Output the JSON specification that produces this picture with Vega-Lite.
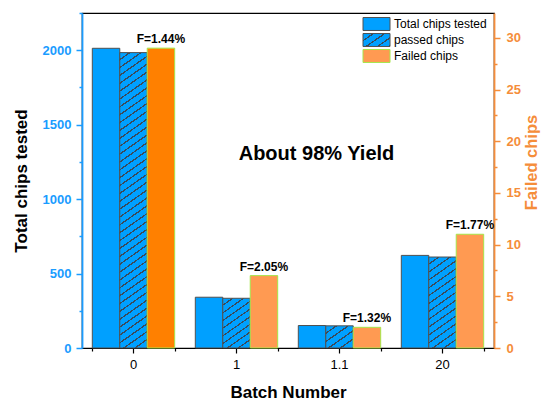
{
  "$schema": "https://vega.github.io/schema/vega-lite/v6.json",
  "width": 412,
  "height": 335,
  "autosize": {"type": "none"},
  "padding": {"left": 82, "top": 13, "right": 47, "bottom": 52},
  "background": "white",
  "config": {"view": {"stroke": "black", "strokeWidth": 1.2}, "font": "Liberation Sans"},
  "data": {"values": [
    {"batch": "0", "series": "Total chips tested", "value": 2013},
    {"batch": "0", "series": "passed chips", "value": 1984},
    {"batch": "0", "series": "Failed chips", "value": 29, "label": "F=1.44%"},
    {"batch": "1", "series": "Total chips tested", "value": 341},
    {"batch": "1", "series": "passed chips", "value": 334},
    {"batch": "1", "series": "Failed chips", "value": 7, "label": "F=2.05%"},
    {"batch": "1.1", "series": "Total chips tested", "value": 151},
    {"batch": "1.1", "series": "passed chips", "value": 149},
    {"batch": "1.1", "series": "Failed chips", "value": 2, "label": "F=1.32%"},
    {"batch": "20", "series": "Total chips tested", "value": 622},
    {"batch": "20", "series": "passed chips", "value": 611},
    {"batch": "20", "series": "Failed chips", "value": 11, "label": "F=1.77%"}
  ]},
  "encoding": {
    "x": {
      "field": "batch", "type": "nominal",
      "scale": {"domain": ["0", "1", "1.1", "20"], "paddingInner": 0.2, "paddingOuter": 0.1},
      "axis": {
        "title": "Batch Number", "labelAngle": 0, "labelFontSize": 13, "labelColor": "black",
        "labelPadding": 5, "tickSize": 5, "tickColor": "black", "tickWidth": 1.2, "domainColor": "black", "domainWidth": 1.2,
        "titleFontSize": 17, "titleFontWeight": "bold", "titleColor": "black", "titlePadding": 13
      }
    }
  },
  "layer": [
    {
      "encoding": {
        "y": {
          "field": "value", "type": "quantitative",
          "scale": {"domain": [0, 2250], "nice": false, "zero": true},
          "axis": {
            "orient": "left", "title": "Total chips tested", "grid": false,
            "values": [0, 250, 500, 750, 1000, 1250, 1500, 1750, 2000, 2250],
            "format": "d",
            "labelExpr": "datum.value % 500 === 0 ? datum.label : ''",
            "tickSize": {"condition": {"test": "datum.value % 500 === 0", "value": 6}, "value": 3},
            "tickColor": "#1a9cff", "tickWidth": 1.5, "domainColor": "#1a9cff", "domainWidth": 1.8,
            "labelColor": "#1a9cff", "labelFontWeight": "bold", "labelFontSize": 13, "labelPadding": 5,
            "titleFontSize": 17, "titleFontWeight": "bold", "titleColor": "black", "titlePadding": 12
          }
        }
      },
      "layer": [
        {
          "encoding": {
            "xOffset": {
              "field": "series", "type": "nominal",
              "scale": {"domain": ["Total chips tested", "passed chips", "Failed chips"], "paddingInner": 0, "paddingOuter": 0}
            }
          },
          "layer": [
            {
              "transform": [{"filter": "datum.series === 'Total chips tested'"}],
              "mark": {"type": "bar", "color": "#00a0ff", "strokeWidth": 1},
              "encoding": {
                "stroke": {
                  "field": "series", "type": "nominal",
                  "scale": {"domain": ["Total chips tested", "passed chips", "Failed chips"], "range": ["#505050", "#505050", "#a6e64b"]},
                  "legend": {
                    "title": null, "orient": "none", "legendX": 287, "legendY": 3.5,
                    "symbolType": "M-2,-0.96H2V0.96H-2Z", "symbolSize": 182.25,
                    "labelFontSize": 12, "labelColor": "black", "labelOffset": 10, "rowPadding": -3, "padding": 0,
                    "symbolStrokeWidth": 1, "symbolOpacity": 1,
                    "encoding": {
                      "symbols": {
                        "fill": {
                          "condition": {"test": "datum.label === 'passed chips'", "value": {"gradient": "linear", "x1": 0, "y1": 0, "x2": 1.146, "y2": 0.788, "stops": [
                              {"offset": 0, "color": "#00a0ff"}, {"offset": 0.2025, "color": "#00a0ff"}, {"offset": 0.2025, "color": "#3a4a5a"}, {"offset": 0.25, "color": "#3a4a5a"},
                              {"offset": 0.25, "color": "#00a0ff"}, {"offset": 0.4525, "color": "#00a0ff"}, {"offset": 0.4525, "color": "#3a4a5a"}, {"offset": 0.5, "color": "#3a4a5a"},
                              {"offset": 0.5, "color": "#00a0ff"}, {"offset": 0.7025, "color": "#00a0ff"}, {"offset": 0.7025, "color": "#3a4a5a"}, {"offset": 0.75, "color": "#3a4a5a"},
                              {"offset": 0.75, "color": "#00a0ff"}, {"offset": 0.9525, "color": "#00a0ff"}, {"offset": 0.9525, "color": "#3a4a5a"}, {"offset": 1, "color": "#3a4a5a"}
                            ]}},
                          "value": {"expr": "datum.label === 'Failed chips' ? '#ff9a52' : '#00a0ff'"}
                        }
                      }
                    }
                  }
                }
              }
            },
            {
              "transform": [{"filter": "datum.series === 'passed chips' && datum.batch === '0'"}],
              "mark": {"type": "bar", "stroke": "#505050", "strokeWidth": 1, "color": {"gradient": "linear", "x1": 0, "y1": 0, "x2": 0.0693, "y2": 1.0608, "stops": [
                {"offset": 0, "color": "#00a0ff"}, {"offset": 0.02, "color": "#00a0ff"}, {"offset": 0.02, "color": "#3a4a5a"}, {"offset": 0.025, "color": "#3a4a5a"},
                {"offset": 0.025, "color": "#00a0ff"}, {"offset": 0.045, "color": "#00a0ff"}, {"offset": 0.045, "color": "#3a4a5a"}, {"offset": 0.05, "color": "#3a4a5a"},
                {"offset": 0.05, "color": "#00a0ff"}, {"offset": 0.07, "color": "#00a0ff"}, {"offset": 0.07, "color": "#3a4a5a"}, {"offset": 0.075, "color": "#3a4a5a"},
                {"offset": 0.075, "color": "#00a0ff"}, {"offset": 0.095, "color": "#00a0ff"}, {"offset": 0.095, "color": "#3a4a5a"}, {"offset": 0.1, "color": "#3a4a5a"},
                {"offset": 0.1, "color": "#00a0ff"}, {"offset": 0.12, "color": "#00a0ff"}, {"offset": 0.12, "color": "#3a4a5a"}, {"offset": 0.125, "color": "#3a4a5a"},
                {"offset": 0.125, "color": "#00a0ff"}, {"offset": 0.145, "color": "#00a0ff"}, {"offset": 0.145, "color": "#3a4a5a"}, {"offset": 0.15, "color": "#3a4a5a"},
                {"offset": 0.15, "color": "#00a0ff"}, {"offset": 0.17, "color": "#00a0ff"}, {"offset": 0.17, "color": "#3a4a5a"}, {"offset": 0.175, "color": "#3a4a5a"},
                {"offset": 0.175, "color": "#00a0ff"}, {"offset": 0.195, "color": "#00a0ff"}, {"offset": 0.195, "color": "#3a4a5a"}, {"offset": 0.2, "color": "#3a4a5a"},
                {"offset": 0.2, "color": "#00a0ff"}, {"offset": 0.22, "color": "#00a0ff"}, {"offset": 0.22, "color": "#3a4a5a"}, {"offset": 0.225, "color": "#3a4a5a"},
                {"offset": 0.225, "color": "#00a0ff"}, {"offset": 0.245, "color": "#00a0ff"}, {"offset": 0.245, "color": "#3a4a5a"}, {"offset": 0.25, "color": "#3a4a5a"},
                {"offset": 0.25, "color": "#00a0ff"}, {"offset": 0.27, "color": "#00a0ff"}, {"offset": 0.27, "color": "#3a4a5a"}, {"offset": 0.275, "color": "#3a4a5a"},
                {"offset": 0.275, "color": "#00a0ff"}, {"offset": 0.295, "color": "#00a0ff"}, {"offset": 0.295, "color": "#3a4a5a"}, {"offset": 0.3, "color": "#3a4a5a"},
                {"offset": 0.3, "color": "#00a0ff"}, {"offset": 0.32, "color": "#00a0ff"}, {"offset": 0.32, "color": "#3a4a5a"}, {"offset": 0.325, "color": "#3a4a5a"},
                {"offset": 0.325, "color": "#00a0ff"}, {"offset": 0.345, "color": "#00a0ff"}, {"offset": 0.345, "color": "#3a4a5a"}, {"offset": 0.35, "color": "#3a4a5a"},
                {"offset": 0.35, "color": "#00a0ff"}, {"offset": 0.37, "color": "#00a0ff"}, {"offset": 0.37, "color": "#3a4a5a"}, {"offset": 0.375, "color": "#3a4a5a"},
                {"offset": 0.375, "color": "#00a0ff"}, {"offset": 0.395, "color": "#00a0ff"}, {"offset": 0.395, "color": "#3a4a5a"}, {"offset": 0.4, "color": "#3a4a5a"},
                {"offset": 0.4, "color": "#00a0ff"}, {"offset": 0.42, "color": "#00a0ff"}, {"offset": 0.42, "color": "#3a4a5a"}, {"offset": 0.425, "color": "#3a4a5a"},
                {"offset": 0.425, "color": "#00a0ff"}, {"offset": 0.445, "color": "#00a0ff"}, {"offset": 0.445, "color": "#3a4a5a"}, {"offset": 0.45, "color": "#3a4a5a"},
                {"offset": 0.45, "color": "#00a0ff"}, {"offset": 0.47, "color": "#00a0ff"}, {"offset": 0.47, "color": "#3a4a5a"}, {"offset": 0.475, "color": "#3a4a5a"},
                {"offset": 0.475, "color": "#00a0ff"}, {"offset": 0.495, "color": "#00a0ff"}, {"offset": 0.495, "color": "#3a4a5a"}, {"offset": 0.5, "color": "#3a4a5a"},
                {"offset": 0.5, "color": "#00a0ff"}, {"offset": 0.52, "color": "#00a0ff"}, {"offset": 0.52, "color": "#3a4a5a"}, {"offset": 0.525, "color": "#3a4a5a"},
                {"offset": 0.525, "color": "#00a0ff"}, {"offset": 0.545, "color": "#00a0ff"}, {"offset": 0.545, "color": "#3a4a5a"}, {"offset": 0.55, "color": "#3a4a5a"},
                {"offset": 0.55, "color": "#00a0ff"}, {"offset": 0.57, "color": "#00a0ff"}, {"offset": 0.57, "color": "#3a4a5a"}, {"offset": 0.575, "color": "#3a4a5a"},
                {"offset": 0.575, "color": "#00a0ff"}, {"offset": 0.595, "color": "#00a0ff"}, {"offset": 0.595, "color": "#3a4a5a"}, {"offset": 0.6, "color": "#3a4a5a"},
                {"offset": 0.6, "color": "#00a0ff"}, {"offset": 0.62, "color": "#00a0ff"}, {"offset": 0.62, "color": "#3a4a5a"}, {"offset": 0.625, "color": "#3a4a5a"},
                {"offset": 0.625, "color": "#00a0ff"}, {"offset": 0.645, "color": "#00a0ff"}, {"offset": 0.645, "color": "#3a4a5a"}, {"offset": 0.65, "color": "#3a4a5a"},
                {"offset": 0.65, "color": "#00a0ff"}, {"offset": 0.67, "color": "#00a0ff"}, {"offset": 0.67, "color": "#3a4a5a"}, {"offset": 0.675, "color": "#3a4a5a"},
                {"offset": 0.675, "color": "#00a0ff"}, {"offset": 0.695, "color": "#00a0ff"}, {"offset": 0.695, "color": "#3a4a5a"}, {"offset": 0.7, "color": "#3a4a5a"},
                {"offset": 0.7, "color": "#00a0ff"}, {"offset": 0.72, "color": "#00a0ff"}, {"offset": 0.72, "color": "#3a4a5a"}, {"offset": 0.725, "color": "#3a4a5a"},
                {"offset": 0.725, "color": "#00a0ff"}, {"offset": 0.745, "color": "#00a0ff"}, {"offset": 0.745, "color": "#3a4a5a"}, {"offset": 0.75, "color": "#3a4a5a"},
                {"offset": 0.75, "color": "#00a0ff"}, {"offset": 0.77, "color": "#00a0ff"}, {"offset": 0.77, "color": "#3a4a5a"}, {"offset": 0.775, "color": "#3a4a5a"},
                {"offset": 0.775, "color": "#00a0ff"}, {"offset": 0.795, "color": "#00a0ff"}, {"offset": 0.795, "color": "#3a4a5a"}, {"offset": 0.8, "color": "#3a4a5a"},
                {"offset": 0.8, "color": "#00a0ff"}, {"offset": 0.82, "color": "#00a0ff"}, {"offset": 0.82, "color": "#3a4a5a"}, {"offset": 0.825, "color": "#3a4a5a"},
                {"offset": 0.825, "color": "#00a0ff"}, {"offset": 0.845, "color": "#00a0ff"}, {"offset": 0.845, "color": "#3a4a5a"}, {"offset": 0.85, "color": "#3a4a5a"},
                {"offset": 0.85, "color": "#00a0ff"}, {"offset": 0.87, "color": "#00a0ff"}, {"offset": 0.87, "color": "#3a4a5a"}, {"offset": 0.875, "color": "#3a4a5a"},
                {"offset": 0.875, "color": "#00a0ff"}, {"offset": 0.895, "color": "#00a0ff"}, {"offset": 0.895, "color": "#3a4a5a"}, {"offset": 0.9, "color": "#3a4a5a"},
                {"offset": 0.9, "color": "#00a0ff"}, {"offset": 0.92, "color": "#00a0ff"}, {"offset": 0.92, "color": "#3a4a5a"}, {"offset": 0.925, "color": "#3a4a5a"},
                {"offset": 0.925, "color": "#00a0ff"}, {"offset": 0.945, "color": "#00a0ff"}, {"offset": 0.945, "color": "#3a4a5a"}, {"offset": 0.95, "color": "#3a4a5a"},
                {"offset": 0.95, "color": "#00a0ff"}, {"offset": 0.97, "color": "#00a0ff"}, {"offset": 0.97, "color": "#3a4a5a"}, {"offset": 0.975, "color": "#3a4a5a"},
                {"offset": 0.975, "color": "#00a0ff"}, {"offset": 0.995, "color": "#00a0ff"}, {"offset": 0.995, "color": "#3a4a5a"}, {"offset": 1, "color": "#3a4a5a"}
              ]}}
            },
            {
              "transform": [{"filter": "datum.series === 'passed chips' && datum.batch === '1'"}],
              "mark": {"type": "bar", "stroke": "#505050", "strokeWidth": 1, "color": {"gradient": "linear", "x1": 0, "y1": 0, "x2": 0.4684, "y2": 1.2062, "stops": [
                {"offset": 0, "color": "#00a0ff"}, {"offset": 0.09, "color": "#00a0ff"}, {"offset": 0.09, "color": "#3a4a5a"}, {"offset": 0.1111, "color": "#3a4a5a"},
                {"offset": 0.1111, "color": "#00a0ff"}, {"offset": 0.2011, "color": "#00a0ff"}, {"offset": 0.2011, "color": "#3a4a5a"}, {"offset": 0.2222, "color": "#3a4a5a"},
                {"offset": 0.2222, "color": "#00a0ff"}, {"offset": 0.3122, "color": "#00a0ff"}, {"offset": 0.3122, "color": "#3a4a5a"}, {"offset": 0.3333, "color": "#3a4a5a"},
                {"offset": 0.3333, "color": "#00a0ff"}, {"offset": 0.4233, "color": "#00a0ff"}, {"offset": 0.4233, "color": "#3a4a5a"}, {"offset": 0.4444, "color": "#3a4a5a"},
                {"offset": 0.4444, "color": "#00a0ff"}, {"offset": 0.5344, "color": "#00a0ff"}, {"offset": 0.5344, "color": "#3a4a5a"}, {"offset": 0.5556, "color": "#3a4a5a"},
                {"offset": 0.5556, "color": "#00a0ff"}, {"offset": 0.6456, "color": "#00a0ff"}, {"offset": 0.6456, "color": "#3a4a5a"}, {"offset": 0.6667, "color": "#3a4a5a"},
                {"offset": 0.6667, "color": "#00a0ff"}, {"offset": 0.7567, "color": "#00a0ff"}, {"offset": 0.7567, "color": "#3a4a5a"}, {"offset": 0.7778, "color": "#3a4a5a"},
                {"offset": 0.7778, "color": "#00a0ff"}, {"offset": 0.8678, "color": "#00a0ff"}, {"offset": 0.8678, "color": "#3a4a5a"}, {"offset": 0.8889, "color": "#3a4a5a"},
                {"offset": 0.8889, "color": "#00a0ff"}, {"offset": 0.9789, "color": "#00a0ff"}, {"offset": 0.9789, "color": "#3a4a5a"}, {"offset": 1, "color": "#3a4a5a"}
              ]}}
            },
            {
              "transform": [{"filter": "datum.series === 'passed chips' && datum.batch === '1.1'"}],
              "mark": {"type": "bar", "stroke": "#505050", "strokeWidth": 1, "color": {"gradient": "linear", "x1": 0, "y1": 0, "x2": 0.9248, "y2": 1.0638, "stops": [
                {"offset": 0, "color": "#00a0ff"}, {"offset": 0.162, "color": "#00a0ff"}, {"offset": 0.162, "color": "#3a4a5a"}, {"offset": 0.2, "color": "#3a4a5a"},
                {"offset": 0.2, "color": "#00a0ff"}, {"offset": 0.362, "color": "#00a0ff"}, {"offset": 0.362, "color": "#3a4a5a"}, {"offset": 0.4, "color": "#3a4a5a"},
                {"offset": 0.4, "color": "#00a0ff"}, {"offset": 0.562, "color": "#00a0ff"}, {"offset": 0.562, "color": "#3a4a5a"}, {"offset": 0.6, "color": "#3a4a5a"},
                {"offset": 0.6, "color": "#00a0ff"}, {"offset": 0.762, "color": "#00a0ff"}, {"offset": 0.762, "color": "#3a4a5a"}, {"offset": 0.8, "color": "#3a4a5a"},
                {"offset": 0.8, "color": "#00a0ff"}, {"offset": 0.962, "color": "#00a0ff"}, {"offset": 0.962, "color": "#3a4a5a"}, {"offset": 1, "color": "#3a4a5a"}
              ]}}
            },
            {
              "transform": [{"filter": "datum.series === 'passed chips' && datum.batch === '20'"}],
              "mark": {"type": "bar", "stroke": "#505050", "strokeWidth": 1, "color": {"gradient": "linear", "x1": 0, "y1": 0, "x2": 0.246, "y2": 1.1598, "stops": [
                {"offset": 0, "color": "#00a0ff"}, {"offset": 0.0578, "color": "#00a0ff"}, {"offset": 0.0578, "color": "#3a4a5a"}, {"offset": 0.0714, "color": "#3a4a5a"},
                {"offset": 0.0714, "color": "#00a0ff"}, {"offset": 0.1293, "color": "#00a0ff"}, {"offset": 0.1293, "color": "#3a4a5a"}, {"offset": 0.1429, "color": "#3a4a5a"},
                {"offset": 0.1429, "color": "#00a0ff"}, {"offset": 0.2007, "color": "#00a0ff"}, {"offset": 0.2007, "color": "#3a4a5a"}, {"offset": 0.2143, "color": "#3a4a5a"},
                {"offset": 0.2143, "color": "#00a0ff"}, {"offset": 0.2721, "color": "#00a0ff"}, {"offset": 0.2721, "color": "#3a4a5a"}, {"offset": 0.2857, "color": "#3a4a5a"},
                {"offset": 0.2857, "color": "#00a0ff"}, {"offset": 0.3436, "color": "#00a0ff"}, {"offset": 0.3436, "color": "#3a4a5a"}, {"offset": 0.3571, "color": "#3a4a5a"},
                {"offset": 0.3571, "color": "#00a0ff"}, {"offset": 0.415, "color": "#00a0ff"}, {"offset": 0.415, "color": "#3a4a5a"}, {"offset": 0.4286, "color": "#3a4a5a"},
                {"offset": 0.4286, "color": "#00a0ff"}, {"offset": 0.4864, "color": "#00a0ff"}, {"offset": 0.4864, "color": "#3a4a5a"}, {"offset": 0.5, "color": "#3a4a5a"},
                {"offset": 0.5, "color": "#00a0ff"}, {"offset": 0.5578, "color": "#00a0ff"}, {"offset": 0.5578, "color": "#3a4a5a"}, {"offset": 0.5714, "color": "#3a4a5a"},
                {"offset": 0.5714, "color": "#00a0ff"}, {"offset": 0.6293, "color": "#00a0ff"}, {"offset": 0.6293, "color": "#3a4a5a"}, {"offset": 0.6429, "color": "#3a4a5a"},
                {"offset": 0.6429, "color": "#00a0ff"}, {"offset": 0.7007, "color": "#00a0ff"}, {"offset": 0.7007, "color": "#3a4a5a"}, {"offset": 0.7143, "color": "#3a4a5a"},
                {"offset": 0.7143, "color": "#00a0ff"}, {"offset": 0.7721, "color": "#00a0ff"}, {"offset": 0.7721, "color": "#3a4a5a"}, {"offset": 0.7857, "color": "#3a4a5a"},
                {"offset": 0.7857, "color": "#00a0ff"}, {"offset": 0.8436, "color": "#00a0ff"}, {"offset": 0.8436, "color": "#3a4a5a"}, {"offset": 0.8571, "color": "#3a4a5a"},
                {"offset": 0.8571, "color": "#00a0ff"}, {"offset": 0.915, "color": "#00a0ff"}, {"offset": 0.915, "color": "#3a4a5a"}, {"offset": 0.9286, "color": "#3a4a5a"},
                {"offset": 0.9286, "color": "#00a0ff"}, {"offset": 0.9864, "color": "#00a0ff"}, {"offset": 0.9864, "color": "#3a4a5a"}, {"offset": 1, "color": "#3a4a5a"}
              ]}}
            }
          ]
        },
        {
          "transform": [{"filter": "datum.series === 'passed chips' && datum.batch === '1.1'"}],
          "mark": {"type": "text", "fontSize": 20, "fontWeight": "bold", "color": "black", "baseline": "middle", "align": "center", "dx": -23},
          "encoding": {
            "y": {"datum": 1300, "type": "quantitative"},
            "text": {"value": "About 98% Yield"}
          }
        }
      ]
    },
    {
      "encoding": {
        "x": {
          "field": "batch", "type": "nominal",
          "axis": {"orient": "bottom", "tickBand": "extent", "labels": false, "title": null, "domain": false, "tickSize": 3, "tickColor": "black", "tickWidth": 1.2}
        },
        "xOffset": {
          "field": "series", "type": "nominal",
          "scale": {"domain": ["Total chips tested", "passed chips", "Failed chips"], "paddingInner": 0, "paddingOuter": 0}
        },
        "y": {
          "field": "value", "type": "quantitative",
          "scale": {"domain": [0, 32.4], "nice": false, "zero": true},
          "axis": {
            "orient": "right", "title": "Failed chips", "grid": false,
            "values": [0, 2.5, 5, 7.5, 10, 12.5, 15, 17.5, 20, 22.5, 25, 27.5, 30],
            "labelExpr": "datum.value % 5 === 0 ? datum.label : ''",
            "tickSize": {"condition": {"test": "datum.value % 5 === 0", "value": 6}, "value": 3},
            "tickColor": "#f58d3a", "tickWidth": 1.5, "domainColor": "#f58d3a", "domainWidth": 1.8,
            "labelColor": "#f58d3a", "labelFontWeight": "bold", "labelFontSize": 13, "labelPadding": 6,
            "titleFontSize": 16.5, "titleFontWeight": "bold", "titleColor": "#f58d3a", "titlePadding": 3, "titleAngle": 270, "titleBaseline": "top", "titleY": 149
          }
        }
      },
      "layer": [
        {
          "transform": [{"filter": "datum.series === 'Failed chips'"}],
          "mark": {"type": "bar", "strokeWidth": 1},
          "encoding": {
            "color": {"condition": {"test": "datum.batch === '0'", "value": "#ff8000"}, "value": "#ff9a52"},
            "stroke": {"field": "series", "type": "nominal", "legend": null}
          }
        },
        {
          "transform": [{"filter": "datum.series === 'Failed chips'"}],
          "mark": {"type": "text", "fontSize": 12, "fontWeight": "bold", "color": "black", "baseline": "bottom", "dy": -2},
          "encoding": {"text": {"field": "label"}}
        }
      ]
    }
  ],
  "resolve": {"scale": {"y": "independent"}, "axis": {"x": "independent"}}
}
